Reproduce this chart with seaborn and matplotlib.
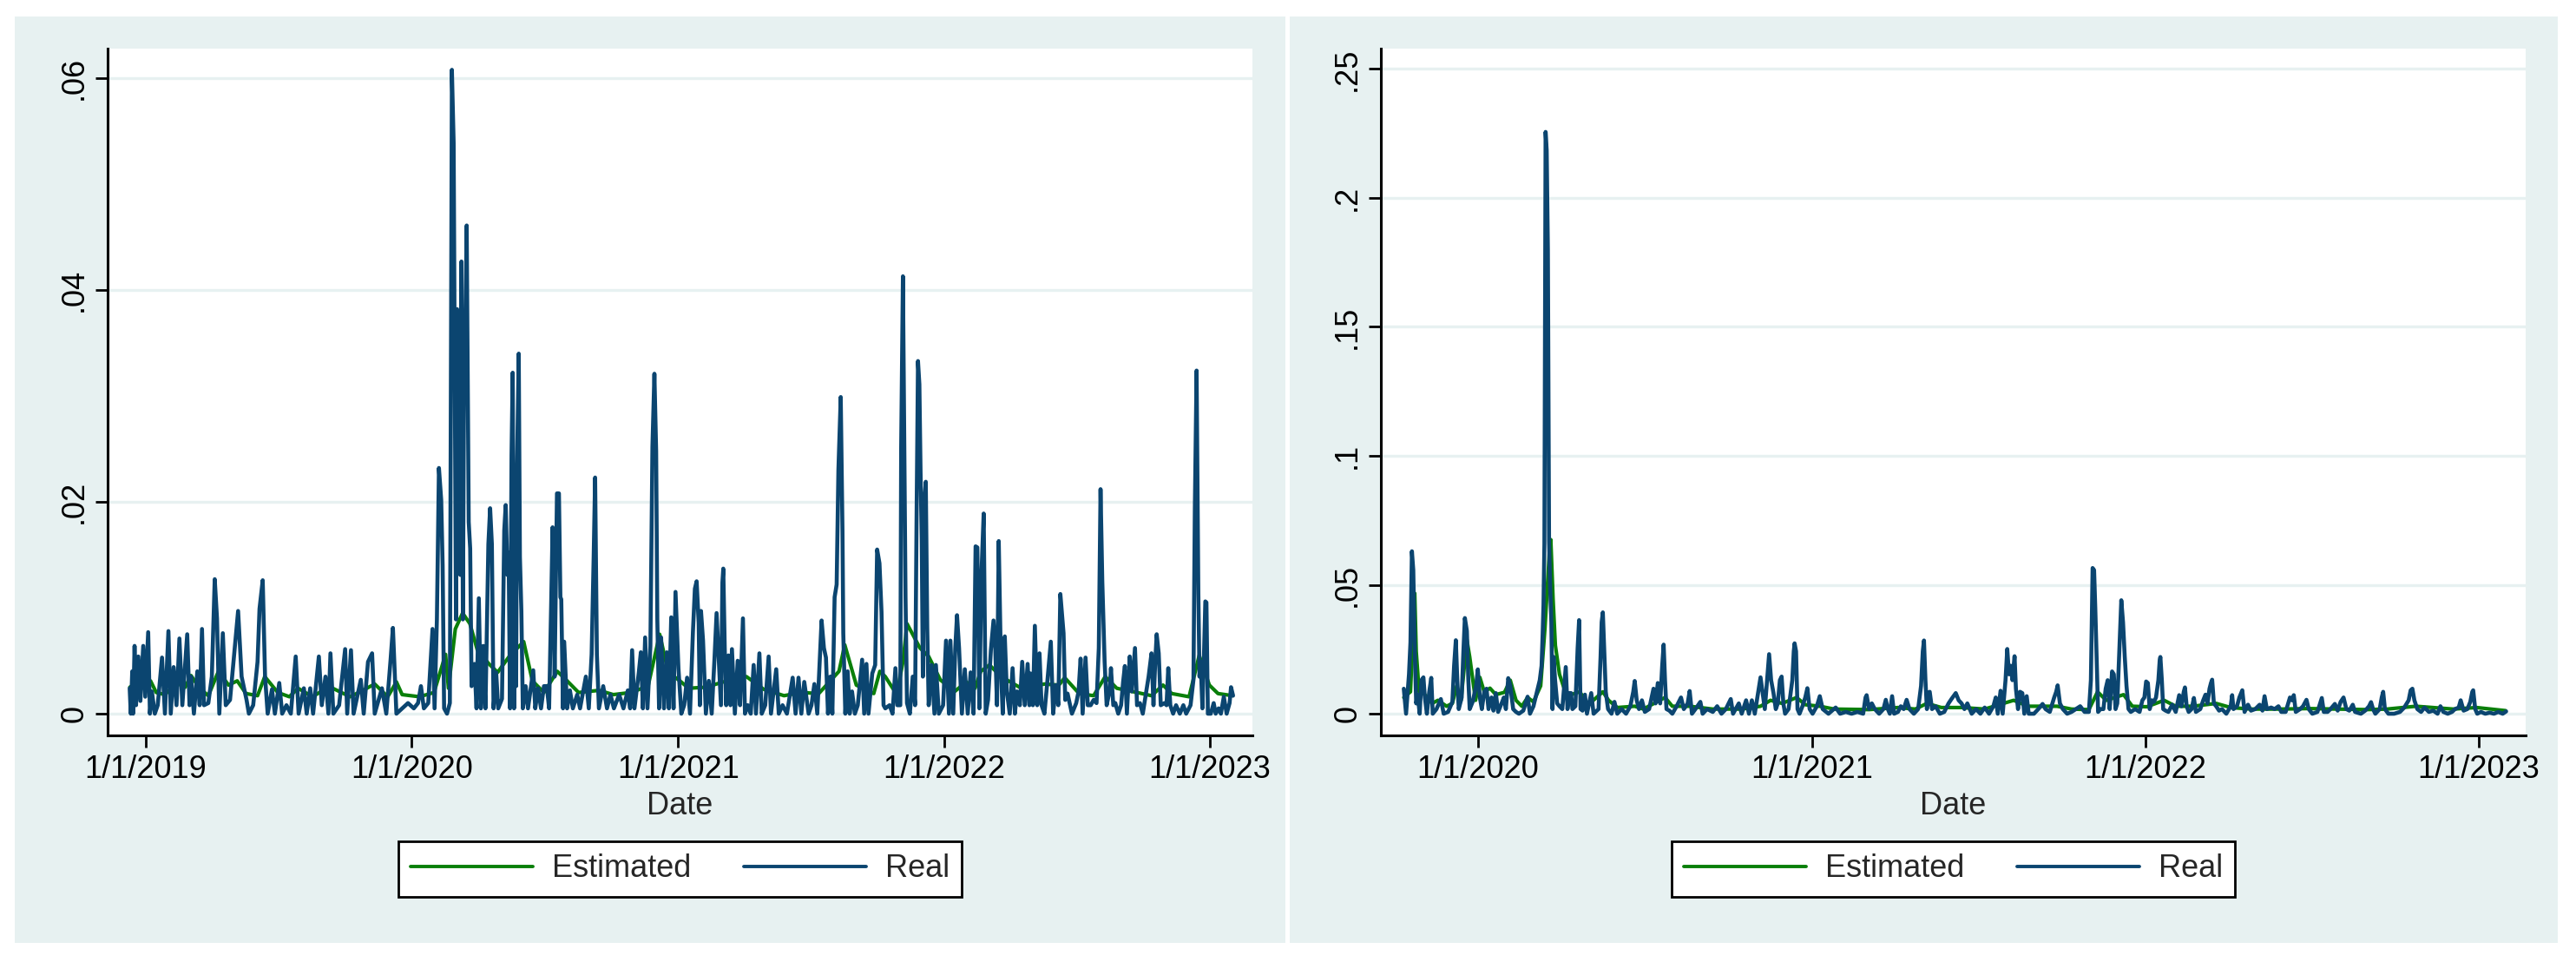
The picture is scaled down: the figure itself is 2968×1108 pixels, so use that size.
import pandas as pd
import matplotlib
matplotlib.use("Agg")
import matplotlib.pyplot as plt
from matplotlib.patches import Rectangle
from matplotlib.lines import Line2D
import seaborn as sns

# Day offsets are counted from this date
BASE = pd.Timestamp("2019-01-01")

# Left panel, real series: (day, value)
left_real = [
    (-22.2, .0024), (-20.7, 0), (-18.7, .004), (-17.5, 0), (-15.5, .0064), (-13.5, .0008),
    (-10.3, .0054), (-7.5, .0012), (-3.6, .0064), (-0.8, .0016), (3.2, .0077), (5.6, 0),
    (8.3, .0021), (12.3, 0), (16.3, .0008), (22.2, .0053), (26.2, 0), (31, .0078), (34.2, 0),
    (38.2, .0044), (42.1, .0008), (46.1, .0071), (50.1, .0008), (56.8, .0075), (60, .0008),
    (62, .0035), (66, 0), (70.7, .004), (73.9, .0008), (77.1, .008), (79.9, .0008), (85.8, .001),
    (90.6, .0035), (94.6, .0127), (97.7, .009), (100.9, 0), (105.7, .0076), (109.7, .0008),
    (115.6, .0013), (120.4, .0049), (126.7, .0097), (131.5, .0035), (138.3, .0013), (141.5, 0),
    (147.4, .0008), (153.4, .0049), (156.1, .0099), (160.5, .0126), (163.7, .0035), (167.3, 0),
    (173.2, .0023), (177.2, 0), (183.2, .0029), (187.2, 0), (193.1, .0008), (199.1, 0),
    (205.8, .0054), (209.8, 0), (217, .0024), (220.9, 0), (225.7, .0024), (229.7, 0),
    (237.6, .0054), (241.6, .0008), (246.7, .0035), (250.7, 0), (253.5, .0057), (257.5, 0),
    (265.4, .0008), (273.7, .0061), (276.5, 0), (281.7, .006), (285.3, 0), (295.2, .0032),
    (299.2, 0), (305.1, .0049), (310.7, .0057), (314.3, 0), (324.2, .0024), (330.2, 0),
    (336.1, .0051), (339.3, .0081), (344.1, 0),
    (352, .0005), (360, .001), (368, .0005), (373.8, .001), (377.8, .0026), (381.8, .0005),
    (387.8, .001), (393.7, .008), (396.5, .0005), (399.7, .0089), (402.5, .0232), (405.6, .0202),
    (407.6, .014), (409.6, .0005), (413.6, 0), (417.5, .001), (420.3, .0608), (422.7, .0539),
    (424.3, .0311), (425.9, .0089), (427.5, .0382), (429.5, .0215), (430.7, .0327), (431.9, .0131),
    (433.4, .0427), (435.4, .0089), (437, .0319), (438.6, .0353), (440.6, .0461), (443.4, .0181),
    (445.4, .0156), (447.3, .0026), (451.3, .0047), (454.1, .0005), (457.3, .0109), (460.1, .0005),
    (463.2, .0064), (466.4, .0005), (470.4, .016), (472.8, .0194), (475.2, .016), (477.5, .0005),
    (481.1, .0039), (483.9, .0005), (489.1, .0014), (492.2, .0173), (494.2, .0197), (496.6, .0131),
    (498.2, .0152), (500.2, .0005), (502.2, .0244), (503.8, .0322), (505.7, .0005), (506.9, .0198),
    (508.5, .0026), (509.7, .0232), (512.1, .034), (513.7, .0148), (515.7, .0097), (517.7, .0005),
    (521.6, .0026), (524.8, .0005), (532, .0041), (534.8, .0005), (538.7, .0024), (542.7, .0005),
    (546.7, .0026), (550.6, .0026), (553.8, .0005), (556.6, .0102), (558.6, .0176), (561.4, .0035),
    (564.6, .0208), (567.3, .0208), (569.3, .011), (570.5, .0108), (572.9, .0005), (574.5, .0068),
    (578.5, .0005), (582.4, .0022), (586.4, .0005), (592.4, .0018), (596.3, .0005), (604.3, .0035),
    (608.3, .0005), (612.2, .0056), (615, .0148), (617, .0223), (619.4, .0056), (622.2, .0005),
    (628.1, .0026), (633.3, .0005), (638.1, .0018), (642.8, .0005), (650, .0018), (655.9, .0005),
    (661.9, .0022), (665.1, .0005), (667.8, .006), (671, .0005), (677, .0039), (679.8, .0058),
    (682.6, .0005), (685.7, .0072), (688.9, .0005), (692.9, .0064), (695.7, .0252), (698.4, .0321),
    (700.8, .0248), (702.4, .0089), (704.8, .0005), (707.6, .0072), (711.6, .0005), (715.5, .0058),
    (718.3, .0005), (721.5, .0091), (724.7, .0005), (727.4, .0115),
    (731.4, .0043), (735.4, 0), (739.3, .0008), (743.3, .0034), (747.3, 0), (751.3, .0077),
    (754, .0118), (756.4, .0125), (759.2, .0086), (760.8, .0008), (762.4, .0097), (765.2, .0069),
    (769.1, 0), (773.1, .0031), (777.1, 0), (781, .0053), (783.8, .0095), (787, .0049),
    (789.8, .0008), (791.8, .0124), (793, .0137), (795, .0062), (797, .0008), (800.1, .0055),
    (802.9, .0008), (804.9, .0061), (808.9, 0), (812.8, .005), (816, .0008), (820, .009),
    (822.8, 0), (826.7, .0008), (830.7, 0), (834.7, .0046), (837.9, 0), (842.6, .0057),
    (845.8, 0), (850.6, .0008), (855.3, .0054), (858.5, 0), (865.7, .0042), (869.2, 0),
    (874.4, .0008), (880.4, 0), (888.3, .0034), (892.3, 0), (896.3, .0034), (900.2, 0),
    (904.2, .003), (910.2, 0), (914.1, .0008), (918.1, .0028), (922.1, 0), (928, .0088),
    (931.2, .0062), (934, .0053), (936.8, 0), (940, .0035), (942.8, 0), (945.9, .011),
    (948.7, .0122), (951.1, .023), (954.3, .0299), (956.7, .0172), (957.8, .0076), (960.6, 0),
    (963.8, .004), (966.6, 0), (969.8, .0021), (973.7, 0), (977.7, .0008), (983.7, .0051),
    (986.5, 0), (989.6, .0047), (992.4, 0), (997.6, .0038), (1001.6, .0046), (1004.3, .0155),
    (1007.5, .0142), (1010.3, .0096), (1013.1, .0008), (1015.5, .0005), (1021.4, .0008),
    (1025.4, 0), (1029.4, .0043), (1032.1, .0008), (1036.1, .0008), (1037.3, .0252),
    (1039.7, .0413), (1041.7, .024), (1043.3, .0109), (1045.3, .001), (1049.2, 0), (1053.2, .0035),
    (1056.4, .0008), (1058.4, .018), (1060.4, .0333), (1062.3, .0311), (1063.9, .0229),
    (1065.5, .0165), (1067.1, .0035), (1069.1, .0202), (1071.1, .0219), (1073.1, .0081),
    (1075.1, .0008), (1079, .0046), (1083, 0), (1085, .0046), (1089, 0), (1094.9, .0008),
    (1098.9, .0069), (1102.9, 0), (1104.9, .0069), (1108.8, 0), (1111.6, .0062), (1114, .0093),
    (1116.8, .0062), (1120.7, 0), (1124.7, .0042), (1128.7, 0), (1132.7, .0039),
    (1136.7, 0), (1139.5, .0158), (1141.9, .0157), (1144.7, .0005), (1147.4, .0129), (1150.6, .0189),
    (1153.4, 0), (1156.6, .0013), (1160.5, .006), (1164.1, .0088), (1166.5, .0062), (1168.9, .0008),
    (1171.3, .0163), (1174.5, .0038), (1176.8, 0), (1179.6, .0073), (1182.4, .0021), (1186.4, 0),
    (1190.3, .0043), (1193.5, 0), (1196.3, .0021), (1200.3, .0008), (1203.5, .0049), (1207, .0008),
    (1211, .0047), (1213.4, .0008), (1215, .0038), (1218.2, .0008), (1220.9, .0083), (1224.1, .0008),
    (1227.3, .0057), (1230.1, .0008), (1234, 0), (1238, .003), (1242.8, .0068), (1246, 0),
    (1249.9, .0027), (1253.1, .0008), (1255.9, .0113), (1260.3, .0076), (1262.6, .0013),
    (1265.8, .0019), (1271.8, 0), (1277.7, .001), (1280.9, .0021), (1283.7, .0052), (1286.5, 0),
    (1290.5, .0053), (1293.6, .0008), (1297.6, .0008), (1301.6, .0013), (1305.6, .001),
    (1308.7, .0062), (1311.1, .0212), (1313.5, .0125), (1316.7, .0049), (1319.5, .0008),
    (1323.4, .0021), (1325.4, .0043), (1328.6, .0008), (1331.4, .001), (1335.4, 0), (1339.3, .0008),
    (1342.1, .003), (1344.5, .0045), (1347.3, 0), (1351.2, .0054), (1354, .0021), (1358.4, .0062),
    (1361.2, .0008), (1365.2, .001), (1369.1, 0), (1377.1, .0035), (1381.1, .0057), (1383.8, .0008),
    (1386.2, .0049), (1388.2, .0075), (1391, .0057), (1393.8, .0008), (1398.9, .001), (1401.7, .0008),
    (1404.1, .0043), (1406.9, .0008), (1410.8, 0), (1414.8, .0008), (1420, 0), (1424.8, .0008),
    (1428.7, 0), (1434.7, .0008), (1438.7, .0032), (1440.6, .0193), (1443, .0324), (1445.4, .0114),
    (1447, .0035), (1448.6, .0049), (1451, .0005), (1453.4, .0062), (1455, .0106), (1456.5, .0105),
    (1458.5, 0), (1462.5, 0), (1466.5, .001), (1469.2, 0), (1473.2, .0005), (1476.4, 0),
    (1480.4, .0016), (1484.3, 0), (1488.3, .001), (1490.3, .0025), (1493.1, .0017),
]

# Left panel, estimated series: (day, value)
left_est = [
    (-22, .0025), (-17.5, .0027), (-1.6, .0024), (6.4, .0031), (14.3, .002), (26.2, .0018),
    (42.1, .0029), (54, .0025), (62, .0036), (73.9, .0024), (85.8, .0017), (99.7, .004),
    (113.6, .0027), (125.5, .0031), (137.5, .0019), (153.4, .0017), (163.3, .0035), (181.2, .002),
    (197.1, .0016), (209, .0024), (228.9, .0016), (240.8, .0021), (256.7, .0024), (280.5, .0016),
    (292.4, .002), (314.3, .0028), (332.2, .0016), (344.1, .003), (352, .0018), (375.8, .0016),
    (395.7, .002), (411.6, .0056), (415.6, .0024), (425, .008), (435, .0095), (445, .0085),
    (455.3, .006), (471.2, .0047), (483.1, .0039), (500, .0055), (518.9, .0068), (530.8, .0031),
    (546.7, .002), (565, .004), (578.5, .0031), (594.3, .002), (622.2, .0022), (642, .0018),
    (665.9, .002), (689.7, .0026), (705.6, .0075), (717.5, .0039), (733.4, .0031), (745.3, .0024),
    (769.1, .0025), (793, .003), (824.8, .0035), (848.6, .0023), (876.4, .0017), (900.2, .002),
    (924.1, .0019), (951.9, .004), (959.8, .0065), (975.7, .0027), (999.6, .0019), (1008, .004),
    (1015.5, .0035), (1031.3, .0018), (1040, .005), (1045.3, .0085), (1063.1, .0062), (1075.1, .0054),
    (1091, .0032), (1110.8, .0021), (1126.7, .003), (1138.7, .0024), (1146.6, .004), (1158.6, .0046),
    (1174.5, .0035), (1202.3, .0024), (1234, .0028), (1253.9, .0027), (1261.9, .0034),
    (1281.7, .0019), (1301.6, .0017), (1317.5, .0035), (1333.4, .0024), (1361.2, .002),
    (1381.1, .0017), (1396.9, .0027), (1408.9, .0019), (1432.7, .0016), (1446.6, .0055),
    (1460.5, .0027), (1472.4, .0019), (1492.3, .0017),
]

# Right panel, real series: (day, value)
right_real = [
    (284.1, .0097), (286.6, 0), (289.8, .0153), (291.4, .0276), (293, .063), (294.5, .0557),
    (296.1, .0242), (297.7, .004), (299.3, .0074), (301.5, 0), (303.4, .013), (305.6, .0141),
    (307.2, .0063), (309.4, 0), (312, .0085), (314.2, .0139), (315.8, 0), (319.9, .0018),
    (324.7, .0057), (327.8, 0), (332.6, .0007), (337.3, .0046), (339.2, .0186), (341.1, .0285),
    (342.7, .013), (344.3, .0018), (347.5, .0063), (349.4, .0242), (351, .0371), (353.2, .0321),
    (354.8, .013), (356.3, .0018), (359.5, .0046), (363.3, .0108), (365.2, .0172), (367.4, .0063),
    (369.6, .0018), (372.2, .0085), (374.7, .0097), (376.9, .0018), (380.1, .0063), (382.3, .0012),
    (384.9, .008), (387.4, .0007), (391.2, .004), (393.7, .0063), (395.9, .0018), (398.5, .0138),
    (400.7, .0108), (403.9, .0018), (407, .0007), (410.2, 0), (415, .0012), (419.7, .0066),
    (422.3, 0), (426.1, .0029), (430.8, .0097), (433, .013), (435, .0186), (436.2, .031),
    (437.1, .0422), (438.1, .0658), (439.4, .2256), (440.6, .2185), (441.9, .18), (443.2, .0669),
    (444.4, .049), (445.7, .0355), (447, .0018), (448.2, .022), (449.8, .013), (452.1, .004),
    (454.6, .0029), (457.7, .0018), (460.3, .013), (461.5, .0181), (463.4, .0018), (465.7, .008),
    (467.3, .008), (468.8, .0018), (472, .0029), (474.5, .0254), (476.1, .0363), (477.7, .0018),
    (479.9, .0012), (482.5, .0074), (484.7, 0), (489.4, .008), (492, 0), (497.4, .0018),
    (499.6, .022), (500.8, .0355), (502.1, .0393), (503.7, .0242), (505.3, .0085), (507.8, .0018),
    (511.6, 0), (514.8, .0046), (517.9, 0), (522.7, .0018), (527.5, 0), (532.2, .0029),
    (535.4, .0085), (537, .0127), (539.2, .0052), (541.7, .0018), (544.9, .0052), (548.1, .0007),
    (552.8, .0018), (557.6, .0097), (559.8, .004), (562.3, .0119), (564.9, .004), (567.1, .0186),
    (568.7, .0268), (570.2, .013), (571.8, .0018), (575, .0012), (578.2, 0), (582.9, .0029),
    (587.7, .0063), (590.8, .0018), (595, .004), (597.2, .0088), (599.7, 0), (603.5, .0018),
    (608.9, .0046), (611.4, 0), (616.2, .0018), (622.5, .0007), (627.3, .0029), (632, 0),
    (636.8, .0018), (642.2, .0057), (644.7, 0), (651, .004), (654.2, 0), (659, .0052),
    (662.1, 0), (665.3, .0052), (668.5, 0), (674.8, .0141),
    (679.5, .0018), (682, .013), (684.2, .0231), (686.4, .013), (689, .008), (691.5, .0018),
    (693.7, .004), (696, .013), (697.9, .0144), (699.8, .004), (701.7, 0), (705.5, .0018),
    (709.6, .013), (711.2, .0242), (712.1, .0273), (713.7, .0242), (715.3, .0018), (717.5, 0),
    (720.7, .0029), (723.8, .0063), (726.1, .0099), (728.6, .0018), (731.8, 0), (736.5, .0029),
    (739.7, .0068), (742.9, .0018), (749.2, 0), (757.1, .0024), (761.9, 0), (768.2, .0007),
    (774.5, 0), (780.9, .0007), (787.2, 0), (789.8, .0063), (791, .0072), (793.6, .0018),
    (796.7, .004), (799.9, .0018), (804.7, 0), (809.4, .0018), (812, .0054), (814.2, .0018),
    (816.4, 0), (818.9, .0068), (821.1, 0), (825.3, .0007), (828.4, .0029), (831.6, .0018),
    (834.8, .0054), (837.9, .0018), (842.7, 0), (847.4, .0018), (850.6, .0108), (852.5, .0242),
    (853.8, .0284), (855.4, .013), (857, .0018), (858.5, .008), (860.1, .0085), (862.6, .0018),
    (866.5, .0029), (871.2, 0), (876, .0007), (880.7, .004), (883.9, .0057), (888.6, .008),
    (891.8, .0052), (895, .004), (898.1, .0018), (901.3, .004), (906.1, 0), (910.8, .0018),
    (915.6, 0), (920.3, .0024), (925.1, 0), (929.8, .0029), (932.4, .0063), (934.6, 0),
    (937.7, .0089), (940, 0), (943.1, .013), (945, .0251), (946.9, .0153), (948.8, .0186),
    (950.7, .013), (953, .0223), (954.5, .0097), (956.8, .0018), (959, .0085), (961.5, .008),
    (963.7, 0), (966.3, .0068), (968.5, 0), (974.2, 0), (979, .0018), (983.7, .0038),
    (986.9, .0018), (991.6, .0007), (996.4, .0063), (998.6, .0085), (1000.2, .011), (1002.7, .004),
    (1005.9, .0018), (1010.6, 0), (1015.4, .0007), (1020.1, .0018), (1024.9, .0029), (1029.7, .0007),
    (1034.4, .0007), (1036.6, .013), (1038.5, .0565), (1040.1, .0557), (1041.4, .0411),
    (1042.7, .0242), (1044.5, .0007), (1047.1, .0018), (1050.3, .0018), (1052.8, .0097),
    (1055, .013), (1057.2, .0018), (1059.8, .0164), (1061.7, .0153), (1063.6, .0018),
    (1065.5, .004), (1067.7, .0242), (1069.9, .044), (1071.8, .0355), (1073.7, .022),
    (1075.6, .0108), (1077.8, .0018), (1080.3, .0007), (1085.1, .0018), (1089.9, .0007),
    (1093, .0052),
    (1095.2, .0063), (1097.1, .0125), (1099, .0119), (1101, .0018), (1103.5, .0052), (1105.7, .0046),
    (1107.9, .0063), (1110.5, .013), (1112, .0209), (1112.7, .022), (1114.3, .013), (1115.8, .0018),
    (1118.4, .0012), (1121.5, .0007), (1125.7, .0035), (1129.5, .0007), (1133.3, .0072),
    (1135.8, .0029), (1138.3, .0085), (1139.6, .0102), (1141.5, .0029), (1143.7, .0007),
    (1146.9, .0018), (1149.4, .0061), (1151.6, .0007), (1156.4, .0018), (1159.6, .0052),
    (1162.1, .0074), (1164.3, .004), (1166.5, .0097), (1168.1, .0119), (1169.4, .0132),
    (1171.3, .004), (1173.8, .0029), (1177, .0012), (1180.2, .0018), (1184.9, 0), (1189.7, .0029),
    (1191.3, .0072), (1192.8, .0018), (1196.6, .0029), (1199.2, .0063), (1202.4, .0091),
    (1204.9, .0007), (1208.7, .0035), (1211.9, .0012), (1216.6, .0018), (1221.4, .0035),
    (1224.5, .0012), (1226.8, .0068), (1229.3, .0018), (1234, .0024), (1237.8, .0018),
    (1242, .0029), (1245.1, .0007), (1249.9, .0007), (1254.6, .0063), (1256.9, .0052),
    (1258.8, .0072), (1261, .0007), (1265.7, .0018), (1268.9, .0029), (1272.7, .0054),
    (1275.2, .0018), (1279.1, 0), (1284.7, .0007), (1289.5, .0061), (1291.7, .0007),
    (1295.8, .0007), (1299, .0018), (1303.8, .0038), (1306.9, .0012), (1310.1, .0046),
    (1313.3, .0063), (1316.4, .0018), (1319.6, .0012), (1323.4, .0035), (1325.9, .0007),
    (1332.3, 0), (1337, .0012), (1341.2, .0029), (1343.4, .0045), (1345.6, .0018), (1348.1, 0),
    (1352.9, .0018), (1355.1, .0063), (1356.7, .0085), (1358.6, .0018), (1362.4, 0), (1368.7, 0),
    (1375.1, .0007), (1379.8, .0024), (1384.6, .0052), (1386.8, .0091), (1388.7, .0097),
    (1390.9, .0052), (1394.1, .0018), (1398.2, .0007), (1402, .0024), (1406.8, .0007),
    (1411.5, .0012), (1416.3, 0), (1419.4, .0029), (1422.6, .0007), (1427.4, 0), (1432.1, .0007),
    (1435.3, .0018), (1439.4, .0024), (1441.6, .0052), (1444.8, .0012), (1448.9, .0018),
    (1452.1, .0046), (1454.3, .0085), (1455.3, .0091), (1457.5, .0018), (1459.7, 0),
    (1463.8, .0007), (1468.5, 0), (1473.3, .0004), (1478, 0), (1482.8, .0007), (1487.6, 0),
    (1491.4, .0009),
]

# Right panel, estimated series: (day, value)
right_est = [
    (284.1, .0063), (291.4, .0085), (296.1, .0467), (297.7, .0242), (300.9, .0085), (305.6, .008),
    (315.1, .004), (321.5, .0052), (331, .0029), (337.3, .004), (342.1, .0108), (346.8, .0052),
    (353.2, .0287), (356.3, .022), (362.7, .0052), (367.4, .0141), (372.2, .0085), (378.5, .0099),
    (384.9, .0074), (394.4, .0083), (400.7, .013), (407, .0052), (413.4, .0029), (419.7, .0063),
    (426.1, .0046), (434, .0108), (438.7, .0332), (443.5, .0624), (445.1, .0675), (447.6, .0444),
    (450.1, .0265), (454.6, .0153), (460.9, .0085), (467.3, .0074), (476.8, .0085), (486.3, .0035),
    (502.1, .0085), (508.4, .0052), (517.9, .0024), (537, .0029), (546.5, .0018), (570.2, .0063),
    (578.2, .0029), (597.2, .0029), (622.5, .0018), (654.2, .0018), (674.8, .0029), (685.8, .0052),
    (698.5, .004), (714.3, .0063), (723.8, .0035), (739.7, .0029), (755.5, .0018), (793.6, .0016),
    (825.3, .0024), (844.3, .0018), (857, .004), (872.8, .0024), (895, .0024), (920.3, .0018),
    (952, .0052), (967.9, .0029), (999.5, .0029), (1015.4, .0018), (1034.4, .0016), (1043.9, .0085),
    (1053.4, .0052), (1072.4, .0074), (1082, .0029), (1097.8, .0027), (1116.8, .0052),
    (1129.5, .0029), (1148.5, .0029), (1173.8, .004), (1189.7, .0024), (1211.9, .0018),
    (1243.6, .0018), (1275.2, .002), (1306.9, .0018), (1338.6, .0016), (1360.8, .0018),
    (1392.5, .0029), (1433.7, .0018), (1459, .0024), (1490.7, .0012),
]

left_yticks = [0, 0.02, 0.04, 0.06]
left_ylabels = ["0", ".02", ".04", ".06"]
right_yticks = [0, 0.05, 0.1, 0.15, 0.2, 0.25]
right_ylabels = ["0", ".05", ".1", ".15", ".2", ".25"]
left_xticks = ["2019-01-01", "2020-01-01", "2021-01-01", "2022-01-01", "2023-01-01"]
left_xlabels = ["1/1/2019", "1/1/2020", "1/1/2021", "1/1/2022", "1/1/2023"]
right_xticks = ["2020-01-01", "2021-01-01", "2022-01-01", "2023-01-01"]
right_xlabels = ["1/1/2020", "1/1/2021", "1/1/2022", "1/1/2023"]


def to_frame(pairs):
    df = pd.DataFrame(pairs, columns=["day", "value"])
    df["Date"] = BASE + pd.to_timedelta(df["day"], unit="D")
    return df


sns.set_style("white")
plt.rcParams["font.family"] = ["Liberation Sans", "DejaVu Sans"]

W, H = 2968, 1108
BG = "#E7F1F1"
GREEN = "#0A7F0A"
NAVY = "#0B4570"
FS = 26

fig = plt.figure(figsize=(W / 100, H / 100), dpi=100)
fig.patch.set_facecolor("white")

# panel backgrounds (drawn under the axes)
for x0, x1 in [(17, 1481), (1486, 2947)]:
    fig.patches.append(Rectangle((x0 / W, 1 - 1086 / H), (x1 - x0) / W, (1086 - 19) / H,
                                 transform=fig.transFigure, facecolor=BG,
                                 edgecolor="none", zorder=-5))

panels = [
    dict(x0=124, x1=1443, real=left_real, est=left_est, yt=left_yticks, yl=left_ylabels,
         xt=left_xticks, xl=left_xlabels, xlim=("2018-11-09 12:00", "2023-02-28 16:00"),
         ylim=(-0.00205, 0.0628)),
    dict(x0=1591, x1=2910, real=right_real, est=right_est, yt=right_yticks, yl=right_ylabels,
         xt=right_xticks, xl=right_xlabels, xlim=("2019-09-17", "2023-02-21 18:00"),
         ylim=(-0.0084, 0.2579)),
]

for p in panels:
    ax = fig.add_axes([p["x0"] / W, 1 - 847 / H, (p["x1"] - p["x0"]) / W, (847 - 56) / H])
    ax.set_zorder(2)
    ax.set_facecolor("white")
    est = to_frame(p["est"])
    real = to_frame(p["real"])
    sns.lineplot(data=est, x="Date", y="value", ax=ax, color=GREEN, lw=3.0,
                 estimator=None, legend=False)
    sns.lineplot(data=real, x="Date", y="value", ax=ax, color=NAVY, lw=3.3,
                 estimator=None, legend=False)

    ax.set_xlim(pd.Timestamp(p["xlim"][0]), pd.Timestamp(p["xlim"][1]))
    ax.set_ylim(*p["ylim"])
    ax.set_yticks(p["yt"])
    ax.set_yticklabels(p["yl"], rotation=90, va="center", fontsize=FS)
    ax.set_xticks([pd.Timestamp(d) for d in p["xt"]])
    ax.set_xticklabels(p["xl"], fontsize=FS)

    ax.yaxis.grid(True, color=BG, lw=2.4)
    ax.xaxis.grid(False)
    ax.set_axisbelow(True)
    for side in ["top", "right"]:
        ax.spines[side].set_visible(False)
    for side in ["left", "bottom"]:
        ax.spines[side].set_visible(True)
        ax.spines[side].set_color("black")
        ax.spines[side].set_linewidth(2.2)
    ax.tick_params(axis="both", which="major", direction="out", length=10, width=2,
                   color="black", labelcolor="black", bottom=True, left=True)
    ax.tick_params(axis="x", pad=6)
    ax.tick_params(axis="y", pad=5)
    ax.set_xlabel("Date", fontsize=FS, labelpad=5)
    ax.set_ylabel("")

    handles = [Line2D([], [], color=GREEN, lw=2.8), Line2D([], [], color=NAVY, lw=2.8)]
    cx = (p["x0"] + p["x1"]) / 2 / W
    leg = fig.legend(handles, ["Estimated", "Real"], loc="center",
                     bbox_to_anchor=(cx, 1 - 1001 / H), ncol=2, fontsize=FS,
                     frameon=True, fancybox=False, framealpha=1, edgecolor="black",
                     facecolor="white", handlelength=3.9, handletextpad=0.6,
                     columnspacing=1.7, borderpad=0.4)
    leg.get_frame().set_linewidth(2)
    leg.set_zorder(3)

fig.savefig("out.png", dpi=100, facecolor="white")
